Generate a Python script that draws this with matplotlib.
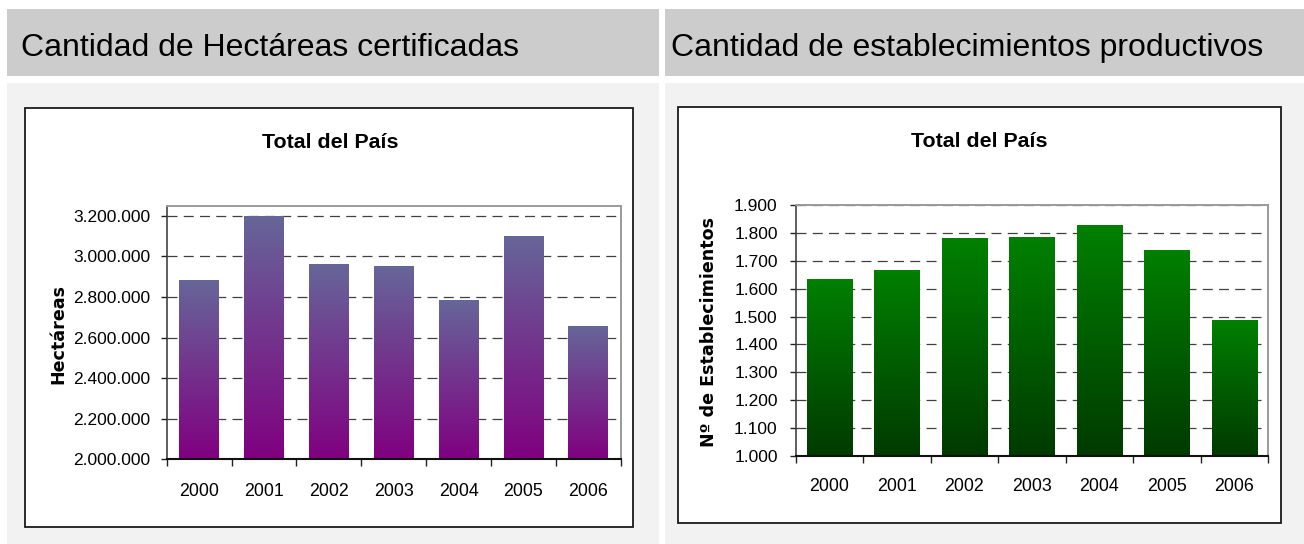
import numpy as np
import matplotlib
matplotlib.use("Agg")
import matplotlib.pyplot as plt
from matplotlib.patches import Rectangle
from matplotlib.ticker import FuncFormatter, FixedLocator
from matplotlib.colors import LinearSegmentedColormap

# ---------------- data ----------------
years = ['2000', '2001', '2002', '2003', '2004', '2005', '2006']
hectareas = [2878000, 3194000, 2957000, 2947000, 2780000, 3095000, 2652000]
establecimientos = [1632, 1664, 1779, 1783, 1826, 1736, 1485]
hect_ticks = [2000000, 2200000, 2400000, 2600000, 2800000, 3000000, 3200000]
estab_ticks = [1000, 1100, 1200, 1300, 1400, 1500, 1600, 1700, 1800, 1900]

header_left = 'Cantidad de Hectáreas certificadas'
header_right = 'Cantidad de establecimientos productivos'
chart_title = 'Total del País'
ylabel_left = 'Hectáreas'
ylabel_right = 'Nº de Establecimientos'

# ---------------- figure ----------------
W, H = 1304, 544
plt.rcParams['font.family'] = ['Liberation Sans', 'DejaVu Sans']
fig = plt.figure(figsize=(W / 100, H / 100), dpi=100)
fig.patch.set_facecolor('white')


def px_rect(x0, y0, x1, y1, **kw):
    r = Rectangle((x0 / W, 1 - y1 / H), (x1 - x0) / W, (y1 - y0) / H,
                  transform=fig.transFigure, **kw)
    fig.add_artist(r)
    return r


def fx(x):
    return x / W


def fy(y):
    return 1 - y / H


# panel backgrounds
px_rect(7, 9, 659, 76, facecolor='#cccccc', edgecolor='none', zorder=-3)
px_rect(665, 9, 1304, 76, facecolor='#cccccc', edgecolor='none', zorder=-3)
px_rect(7, 83, 659, 544, facecolor='#f2f2f2', edgecolor='none', zorder=-3)
px_rect(665, 83, 1304, 544, facecolor='#f2f2f2', edgecolor='none', zorder=-3)

# chart boxes
px_rect(25, 108, 633, 527, facecolor='white', edgecolor='#1a1a1a', lw=1.3, zorder=-2)
px_rect(678, 107, 1281, 523, facecolor='white', edgecolor='#1a1a1a', lw=1.3, zorder=-2)

# headers
fig.text(fx(21), fy(56), header_left, fontsize=23,
         ha='left', va='baseline', color='black')
fig.text(fx(671), fy(56), header_right, fontsize=23,
         ha='left', va='baseline', color='black')


def thousands(v, pos=None):
    return f'{int(round(v)):,}'.replace(',', '.')


def make_chart(rect_px, vals, ticks, ylim, c_top, c_bot, width, ylabel, ylabel_xy,
               title_xy, ytick_pad, xlab_pad):
    x0, y0, x1, y1 = rect_px
    ax = fig.add_axes([x0 / W, 1 - y1 / H, (x1 - x0) / W, (y1 - y0) / H])
    ax.set_facecolor('white')
    xs = np.arange(len(vals))
    ymin = ylim[0]
    bars = ax.bar(xs, [v - ymin for v in vals], bottom=ymin, width=width,
                  facecolor='none', edgecolor='none', zorder=2)
    cmap = LinearSegmentedColormap.from_list('g', [c_bot, c_top])
    grad = np.linspace(0, 1, 256).reshape(-1, 1)
    for b in bars:
        bx, by, bw, bh = b.get_x(), b.get_y(), b.get_width(), b.get_height()
        ax.imshow(grad, cmap=cmap, origin='lower', aspect='auto',
                  extent=[bx, bx + bw, by, by + bh], zorder=2, interpolation='bilinear')
    ax.set_xlim(-0.5, len(vals) - 0.5)
    ax.set_ylim(*ylim)
    ax.set_aspect('auto')

    ax.yaxis.set_major_locator(FixedLocator(ticks))
    ax.yaxis.set_major_formatter(FuncFormatter(thousands))
    ax.tick_params(axis='y', direction='out', length=4, width=1, color='#222222',
                   labelsize=12.5, pad=ytick_pad, labelcolor='black')

    ax.set_xticks(np.arange(-0.5, len(vals), 1.0))
    ax.set_xticklabels([])
    ax.set_xticks(xs, minor=True)
    ax.set_xticklabels(years, minor=True)
    ax.tick_params(axis='x', which='major', direction='out', length=5, width=1, color='#222222')
    ax.tick_params(axis='x', which='minor', length=0, labelsize=12.8, pad=xlab_pad,
                   labelcolor='black')

    ax.set_axisbelow(True)
    ax.yaxis.grid(True, color='#404040', lw=0.9, linestyle=(0, (8, 5)))
    ax.xaxis.grid(False)

    for s in ['top', 'right']:
        ax.spines[s].set_color('#9a9a9a')
        ax.spines[s].set_linewidth(1.4)
    ax.spines['left'].set_color('#333333')
    ax.spines['left'].set_linewidth(1.1)
    ax.spines['bottom'].set_color('#111111')
    ax.spines['bottom'].set_linewidth(1.5)

    fig.text(fx(ylabel_xy[0]), fy(ylabel_xy[1]), ylabel, rotation=90, fontsize=12.6,
             fontweight='bold', family=['DejaVu Sans'], ha='center', va='center')
    fig.text(fx(title_xy[0]), fy(title_xy[1]), chart_title, fontsize=15.4,
             fontweight='bold', ha='center', va='baseline')
    return ax


make_chart((166.7, 205.7, 620.7, 459.3), hectareas, hect_ticks, (2000000, 3250000),
           '#666699', '#800080', 0.61, ylabel_left, (58, 334), (330, 148), 8, 17)
make_chart((795.7, 205, 1268, 456), establecimientos, estab_ticks, (1000, 1900),
           '#008000', '#003a00', 0.67, ylabel_right, (709, 332), (979.5, 147), 9, 15.5)

fig.savefig('out.png', dpi=100, facecolor='white')
